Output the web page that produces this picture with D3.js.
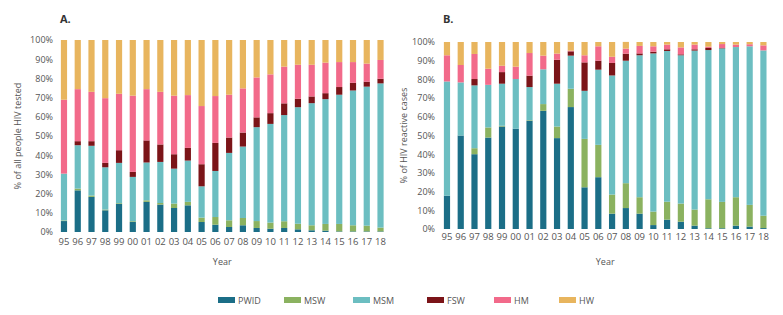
<!DOCTYPE html>
<html><head><meta charset="utf-8">
<script src="https://cdn.jsdelivr.net/npm/d3@7"></script>
<style>body{margin:0;background:#fff}svg{font-family:"Open Sans",sans-serif}</style>
</head><body><svg id="c" width="783" height="315"></svg>
<script>
const years = ["95","96","97","98","99","00","01","02","03","04","05","06","07","08","09","10","11","12","13","14","15","16","17","18"];
const groups = ["PWID","MSW","MSM","FSW","HM","HW"];
const colors = ["#1b6e87","#8bb260","#6cbec1","#7b1418","#f26a8a","#e8b55e"];
const yTicks = [0,10,20,30,40,50,60,70,80,90,100];

// Panel A: % of all people HIV tested
const aPWID = [5.7,21.7,18.3,11.3,14.6,5.2,15.7,14.3,12.5,13.9,5.2,3.8,2.6,3.5,2.1,1.7,2.1,1.4,0.9,0.7,0.3,0.3,0.3,0.3];
const aMSW  = [0.3,0.9,0.7,0.4,0.4,0.4,0.8,0.8,2.3,1.8,2.3,4.0,3.5,3.8,3.6,3.2,3.5,2.9,2.6,3.5,3.9,3.2,3.0,2.0];
const aMSM  = [24.4,22.6,25.9,22.0,21.0,23.1,19.7,21.4,18.2,21.5,16.3,24.0,35.1,37.2,48.9,51.4,55.3,60.7,63.6,65.0,67.3,70.2,72.4,75.1];
const aFSW  = [0,2.1,2.4,2.3,6.6,2.6,11.5,9.1,7.5,6.6,11.5,14.6,8.0,7.3,5.1,5.6,6.1,4.4,3.5,3.1,4.0,4.0,2.6,2.4];
const aHM   = [38.5,27.1,25.7,33.7,29.4,39.7,26.7,27.4,30.5,27.5,30.3,24.4,22.3,23.0,20.8,20.2,19.1,17.7,16.5,15.9,13.0,10.8,9.4,9.8];
const aHW   = [31.1,25.6,27.0,30.3,28.0,29.0,25.6,27.0,29.0,28.7,34.4,29.2,28.5,25.2,19.5,17.9,13.9,12.9,12.9,11.8,11.5,11.5,12.3,10.4];

// Panel B: % of HIV reactive cases
const bPWID = [17.8,50.0,40.0,48.9,54.8,53.6,57.9,63.2,48.6,65.2,22.3,27.7,8.2,11.2,8.2,2.1,5.0,3.9,1.8,0.4,0.4,1.8,1.3,0.5];
const bMSW  = [0,0,3.2,5.4,0.4,0,0.3,3.6,6.2,9.8,25.9,17.3,10.2,13.3,8.8,7.2,9.6,9.7,8.6,15.5,14.1,15.2,11.6,6.6];
const bMSM  = [61.1,28.4,33.6,22.8,22.5,26.6,17.7,18.6,22.9,17.7,25.7,40.2,63.7,65.5,75.9,84.6,80.6,79.3,85.0,79.8,82.1,80.3,84.8,88.4];
const bFSW  = [0,0,3.4,0,6.2,0,6.1,0,12.8,2.3,15.2,4.8,6.7,3.75,1.0,0.9,0.9,0.5,0.7,1.1,0.2,0,0,0];
const bHM   = [14.0,9.3,13.4,8.6,3.4,6.6,12.1,7.3,3.3,0.4,3.8,7.7,3.3,2.7,4.0,2.9,2.5,3.7,2.5,0.7,2.1,1.3,1.1,2.7];
const bHW   = [7.1,12.3,6.4,14.3,12.7,13.2,5.9,7.3,6.2,4.6,7.1,2.3,7.9,3.6,2.1,2.3,1.4,2.9,1.4,2.5,1.1,1.4,1.2,1.8];

const svg = d3.select("#c");
const txt = "#555";

function panel(cfg){
  const {series, x0, x1, y0, y1, title, ylabel, ylabX, tickX, xLabY} = cfg;
  const rows = years.map((yr,i)=>{ const r={year:yr}; groups.forEach((g,k)=>r[g]=series[k][i]); return r; });
  const stack = d3.stack().keys(groups)(rows);
  const x = d3.scaleBand().domain(years).range([x0,x1]).paddingInner(0.55).paddingOuter(0.275);
  const y = d3.scaleLinear().domain([0,100]).range([y0,y1]);
  const g = svg.append("g");
  stack.forEach((layer,k)=>{
    g.append("g").attr("fill",colors[k]).selectAll("rect").data(layer).join("rect")
      .attr("x",d=>x(d.data.year)).attr("width",x.bandwidth())
      .attr("y",d=>y(d[1])).attr("height",d=>Math.max(0,y(d[0])-y(d[1])));
  });
  const ya = d3.axisLeft(y).tickValues(yTicks).tickFormat(d=>d+"%").tickSize(0).tickPadding(0);
  const yg = svg.append("g").attr("transform",`translate(${tickX},0)`).call(ya);
  yg.select(".domain").remove();
  yg.selectAll("text").attr("fill",txt).style("font-size","9px").style("font-family","Open Sans");
  const xa = d3.axisBottom(x).tickSize(0).tickPadding(0);
  const xg = svg.append("g").attr("transform",`translate(0,${xLabY})`).call(xa);
  xg.select(".domain").remove();
  xg.selectAll("text").attr("fill",txt).style("font-size","9.5px").style("font-family","Open Sans");
  svg.append("text").attr("x",x(years[0])-1).attr("y",23).attr("fill","#333")
    .style("font-weight","bold").style("font-size","11px").text(title);
  svg.append("text").attr("transform",`translate(${ylabX},${(y0+y1)/2}) rotate(-90)`)
    .attr("text-anchor","middle").attr("fill",txt).style("font-size","9px").text(ylabel);
  svg.append("text").attr("x",(x0+x1)/2).attr("y",265).attr("text-anchor","middle")
    .attr("fill",txt).style("font-size","9px").text("Year");
}

panel({series:[aPWID,aMSW,aMSM,aFSW,aHM,aHW], x0:57.1, x1:387.4, y0:232, y1:40,
  title:"A.", ylabel:"% of all people HIV tested", ylabX:21, tickX:53, xLabY:238});
panel({series:[bPWID,bMSW,bMSM,bFSW,bHM,bHW], x0:440.1, x1:770.3, y0:229, y1:42,
  title:"B.", ylabel:"% of HIV reactive cases", ylabX:407, tickX:435, xLabY:233});

// legend
const legX = [218,284,353,427,494,559];
const lg = svg.append("g");
groups.forEach((gname,k)=>{
  lg.append("rect").attr("x",legX[k]).attr("y",297).attr("width",17).attr("height",6).attr("fill",colors[k]);
  lg.append("text").attr("x",legX[k]+20).attr("y",303.5).attr("fill",txt).style("font-size","9px").text(gname);
});
</script></body></html>
